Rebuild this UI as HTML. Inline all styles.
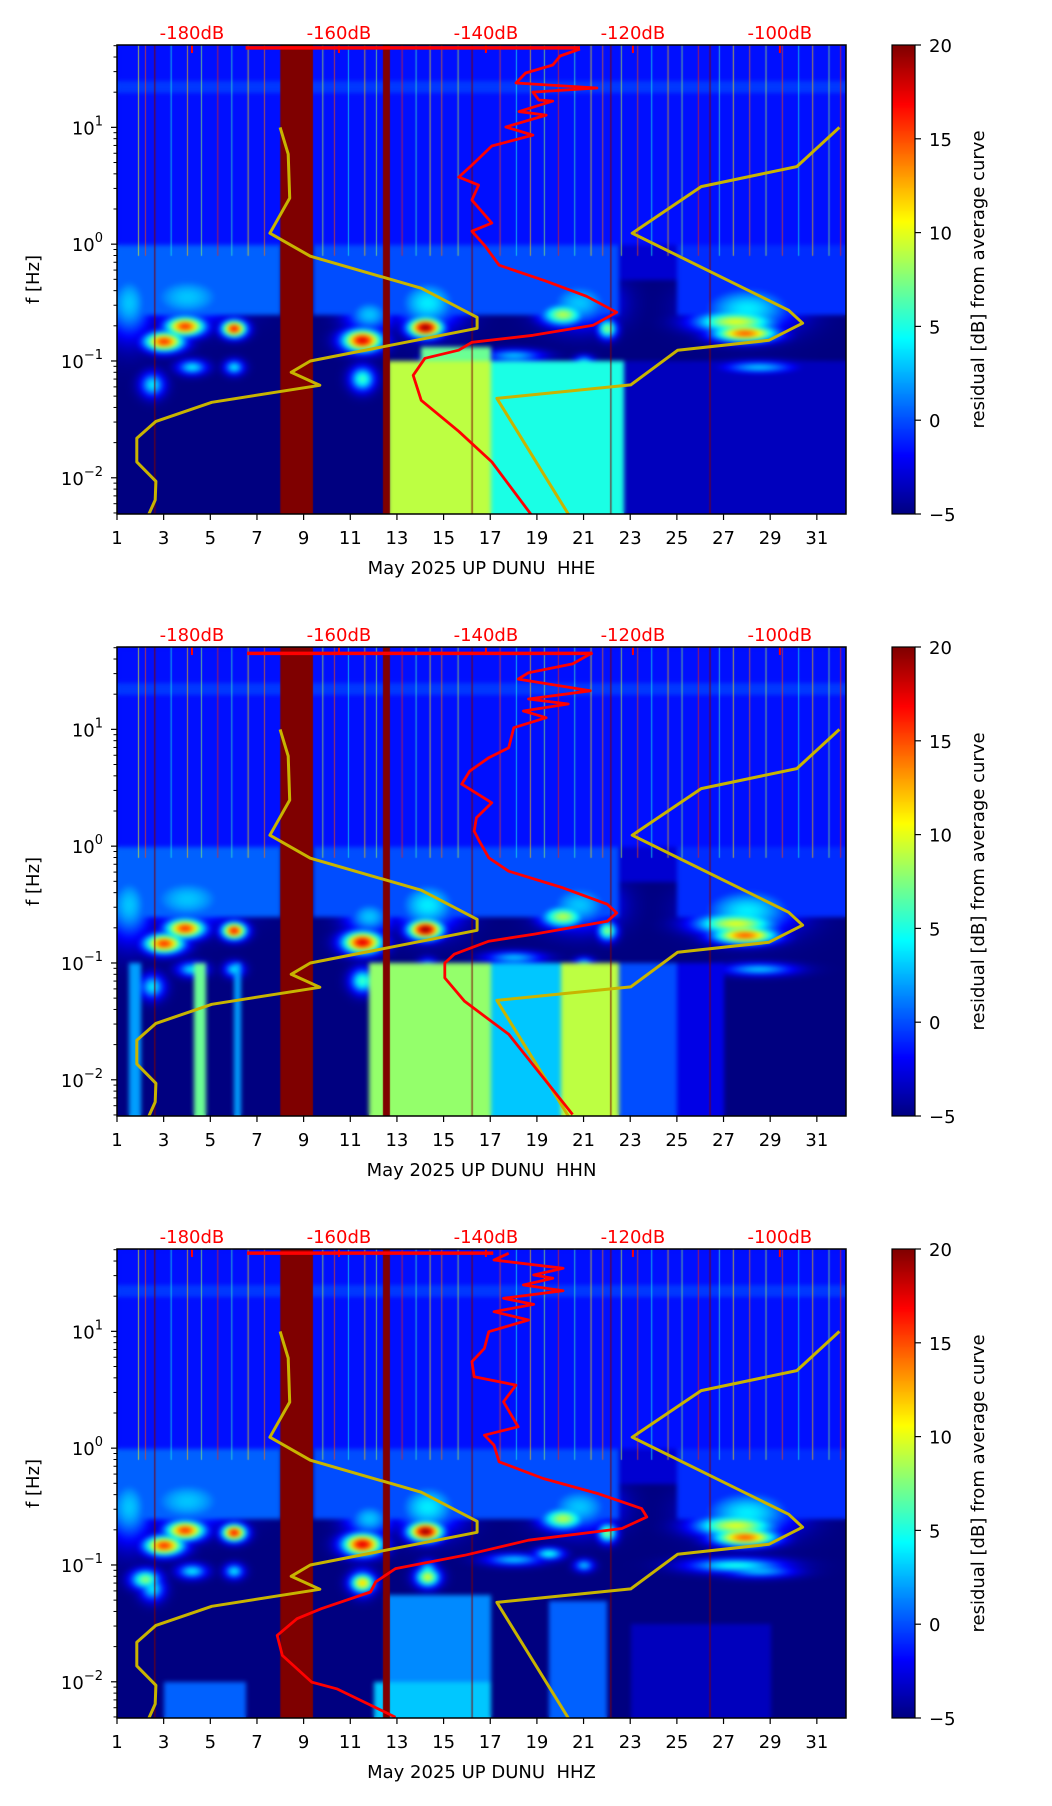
<!DOCTYPE html>
<html><head><meta charset="utf-8"><style>
html,body{margin:0;padding:0;background:#fff;}
body{width:1052px;height:1806px;position:relative;overflow:hidden;font-family:"DejaVu Sans","Liberation Sans",sans-serif;}
canvas{position:absolute;}
svg{position:absolute;left:0;top:0;}
</style></head><body>
<canvas id="c0" width="729" height="469" style="left:117px;top:45px"></canvas>
<canvas id="c1" width="729" height="469" style="left:117px;top:647px"></canvas>
<canvas id="c2" width="729" height="469" style="left:117px;top:1249px"></canvas>
<canvas id="cb0" width="23" height="469" style="left:892px;top:45px"></canvas>
<canvas id="cb1" width="23" height="469" style="left:892px;top:647px"></canvas>
<canvas id="cb2" width="23" height="469" style="left:892px;top:1249px"></canvas>
<svg id="ov" width="1052" height="1806"></svg>
<script>
// ---------- data ----------
const panelTitles = ["May 2025 UP DUNU\u00a0\u00a0HHE","May 2025 UP DUNU\u00a0\u00a0HHN","May 2025 UP DUNU\u00a0\u00a0HHZ"];
const dayTicks = [1,3,5,7,9,11,13,15,17,19,21,23,25,27,29,31];
const dbTicks = [-180,-160,-140,-120,-100];
const logTicks = [1,0,-1,-2];
const cbTicks = [20,15,10,5,0,-5];
// New Low Noise Model (dB, log10 Hz)
const nlnmDb = [-168.0,-166.9,-166.7,-169.4,-163.9,-148.8,-141.2,-141.2,-163.9,-166.5,-162.6,-177.3,-184.9,-187.5,-187.5,-184.9,-185.0,-186.0];
const nlnmLogF = [1.0,0.771,0.394,0.094,-0.103,-0.377,-0.626,-0.72,-1.0,-1.097,-1.208,-1.354,-1.517,-1.662,-1.864,-2.03,-2.19,-2.33];
// New High Noise Model
const nhnmDb = [-91.9,-97.7,-110.7,-120.1,-98.8,-96.9,-101.5,-113.9,-120.3,-138.5,-128.6];
const nhnmLogF = [1.0,0.664,0.493,0.094,-0.566,-0.677,-0.823,-0.908,-1.205,-1.32,-2.33];
// average PSD curves per channel
const avgTopDb = [[-172.7,-127.2],[-172.5,-125.5],[-172.5,-139.0]];
const avgTopLogF = [1.68,1.65,1.67];
const avgDb0 = [-127.2,-129.9,-130.9,-134.6,-135.9,-124.9,-133.6,-132.8,-130.9,-135.5,-131.8,-137.3,-133.6,-139.2,-141.9,-143.7,-141.0,-141.9,-139.2,-141.9,-140.1,-138.2,-131.8,-126.3,-122.2,-125.4,-133.6,-141.9,-143.7,-148.3,-149.9,-148.8,-143.7,-139.2,-133.6];
const avgLogF0 = [1.671,1.611,1.534,1.465,1.380,1.337,1.302,1.234,1.225,1.135,1.105,1.003,0.934,0.840,0.677,0.574,0.506,0.377,0.180,0.111,-0.017,-0.180,-0.317,-0.446,-0.583,-0.694,-0.780,-0.840,-0.908,-0.977,-1.123,-1.337,-1.602,-1.864,-2.335];
const avgDb1 = [-125.5,-128.2,-134.2,-135.6,-125.8,-134.2,-128.8,-134.9,-131.8,-136.2,-136.9,-139.6,-142.2,-143.3,-139.2,-141.3,-141.6,-140.9,-139.6,-136.9,-129.5,-123.5,-122.2,-123.5,-133.5,-139.6,-144.3,-145.6,-145.6,-142.9,-136.9,-128.2];
const avgLogF1 = [1.656,1.56,1.485,1.43,1.33,1.26,1.217,1.157,1.10,1.014,0.842,0.757,0.643,0.531,0.371,0.243,0.129,0.043,-0.1,-0.214,-0.357,-0.497,-0.571,-0.643,-0.754,-0.814,-0.925,-1.0,-1.128,-1.328,-1.611,-2.297];
const avgDb2 = [-136.9,-138.9,-129.5,-133.5,-130.9,-134.9,-129.5,-137.6,-133.5,-138.9,-134.2,-139.6,-140.2,-141.9,-141.6,-135.9,-137.6,-135.6,-140.2,-138.9,-138.2,-132.2,-124.8,-118.8,-118.1,-121.5,-134.2,-142.9,-152.3,-155.0,-155.7,-162.4,-165.7,-168.4,-167.7,-163.7,-160.3,-152.3];
const avgLogF2 = [1.668,1.611,1.54,1.482,1.454,1.397,1.348,1.283,1.231,1.168,1.097,0.997,0.854,0.74,0.611,0.54,0.397,0.183,0.111,0.026,-0.117,-0.26,-0.388,-0.517,-0.589,-0.688,-0.788,-0.917,-1.031,-1.145,-1.231,-1.374,-1.46,-1.603,-1.774,-2.003,-2.06,-2.303];
// spectrogram regions: [day0, day1, logf0, logf1, residual dB]
const commonRegions = [[1,32.25,0,1.71,-1.5],[1,32.25,1.3,1.4,-0.5],[1,8,-0.6,0,0.5],[9.4,22.5,-0.6,0,0],[22.5,25,-0.3,0,-3],[25,32.25,-0.6,0,-0.8]];
const regions0 = [[12.6,17,-2.32,-1.0,9],[14,17,-1.0,-0.88,7],[17,22.7,-2.32,-1.0,5],[22.7,32.25,-2.32,-1.0,-3.5]];
const regions1 = [[1.5,2,-2.32,-1.0,2],[4.3,4.8,-2.32,-1.0,7],[6,6.3,-2.32,-1.0,2],[11.8,17,-2.32,-1.0,8],[17,20,-2.32,-1.0,3],[20,22.5,-2.32,-1.0,9],[22.5,25,-2.32,-1.0,0],[25,27,-2.32,-1.0,-2.5]];
const regions2 = [[12.5,17,-2.32,-1.25,1.5],[19.5,22,-2.32,-1.3,0.5],[3,6.5,-2.32,-2.0,0.5],[12,17,-2.32,-2.0,3],[23,29,-2.32,-1.5,-3.5]];
// blobs: [day, logf, value, day radius, decade radius]
const commonBlobs = [[3.0,-0.83,16,0.8,0.08],[3.9,-0.70,16,0.8,0.08],[6.0,-0.72,17,0.5,0.07],[11.5,-0.82,18,0.8,0.09],[14.2,-0.71,20,0.7,0.08],[20.1,-0.6,9,0.9,0.09],[22.0,-0.72,8,0.4,0.08],[27.9,-0.76,15,1.3,0.07],[27.5,-0.66,10,1.7,0.09],[2.5,-1.2,4,0.5,0.1],[4.2,-1.05,4,0.6,0.06],[6.0,-1.05,4,0.4,0.06],[11.5,-1.15,6,0.5,0.1],[14.3,-1.05,5,0.4,0.08],[18.0,-0.95,3,1.2,0.05],[21,-1.0,3,0.4,0.05],[28.5,-1.05,3,1.5,0.05],[4.0,-0.45,3,2.0,0.22],[14.3,-0.5,4,1.4,0.22],[20.8,-0.5,3,1.5,0.2],[28.0,-0.55,4,2.0,0.2],[11.8,-0.6,3,1.0,0.15],[1.5,-0.5,3,1.0,0.3]];
const blobs2 = [[2.2,-1.12,8,0.6,0.08],[11.5,-1.15,12,0.5,0.08],[14.3,-1.1,10,0.5,0.08],[27.5,-1.0,5,2,0.06],[19.5,-0.9,5,0.6,0.05]];
const streakDays = [1.9,2.2,3.3,4.0,4.6,5.3,5.9,6.6,7.3,9.8,10.3,10.9,11.6,12.1,13.2,13.8,14.4,14.9,15.6,17.4,18.1,18.7,19.3,19.9,20.6,21.3,21.8,22.6,23.3,23.9,24.6,25.2,25.9,26.8,27.4,28.1,28.8,29.5,30.2,30.8,31.5,32.0];
const streakVals = [10,15,5,12,8,16,6,11,14,9,15,5,12,8,16,6,11,14,9,15,5,12,8,16,6,11,14,9,15,5,12,8,16,6,11,14,9,15,5,12,8,16];
const redLineDays = [2.6,16.2,22.15,26.4];
const gapBands = [[8.0,9.4],[12.4,12.7]];

// ---------- geometry ----------
const PL=117, PW=729, PH=469, TOPS=[45,647,1249];
const DMIN=1, DMAX=32.25, LFMAX=1.705, LFMIN=-2.31, DBMIN=-190.2, DBMAX=-91.0;
const xDay=d=>PL+(d-DMIN)/(DMAX-DMIN)*PW;
const xDb=db=>PL+(db-DBMIN)/(DBMAX-DBMIN)*PW;
const yLf=(lf,t)=>t+(LFMAX-lf)/(LFMAX-LFMIN)*PH;
function jet(v){const t=Math.max(0,Math.min(1,(v+5)/25));const c=x=>Math.round(255*Math.max(0,Math.min(1,1.5-Math.abs(4*t-x))));return [c(3),c(2),c(1)];}
const rgb=a=>`rgb(${a[0]},${a[1]},${a[2]})`;

const regionSets=[regions0,regions1,regions2];
const blobSets=[commonBlobs,commonBlobs,commonBlobs.concat(blobs2)];
for(let p=0;p<3;p++){
  const cv=document.getElementById('c'+p),ctx=cv.getContext('2d');
  const tmp=document.createElement('canvas');tmp.width=PW;tmp.height=PH;const tctx=tmp.getContext('2d');
  const img=tctx.createImageData(PW,PH);
  const regs=commonRegions.concat(regionSets[p]);const bl=blobSets[p];
  for(let py=0;py<PH;py++){const lf=LFMAX-py/PH*(LFMAX-LFMIN);
    for(let px=0;px<PW;px++){const d=DMIN+px/PW*(DMAX-DMIN);let v=-5;
      for(const r of regs){if(d>=r[0]&&d<r[1]&&lf>=r[2]&&lf<r[3])v=r[4];}
      for(const b of bl){const dx=(d-b[0])/b[3],dy=(lf-b[1])/b[4];const q=dx*dx+dy*dy;if(q<6){const c=-5+(b[2]+5)*Math.exp(-q);if(c>v)v=c;}}
      const col=jet(v);const i=(py*PW+px)*4;img.data[i]=col[0];img.data[i+1]=col[1];img.data[i+2]=col[2];img.data[i+3]=255;}}
  tctx.putImageData(img,0,0);
  ctx.drawImage(tmp,0,0);
  ctx.filter='blur(2px)';ctx.drawImage(tmp,0,0);ctx.filter='none';
  const yEnd=yLf(-0.1,0);
  streakDays.forEach((d,i)=>{ctx.fillStyle=rgb(jet(streakVals[i]));ctx.globalAlpha=0.7;ctx.fillRect(xDay(d)-PL,0,1,yEnd);});
  ctx.globalAlpha=1;ctx.fillStyle='#7f0000';
  redLineDays.forEach(d=>ctx.fillRect(xDay(d)-PL,0,1,PH));
  gapBands.forEach(g=>ctx.fillRect(xDay(g[0])-PL,0,xDay(g[1])-xDay(g[0]),PH));
  const cb=document.getElementById('cb'+p).getContext('2d');
  for(let y=0;y<PH;y++){cb.fillStyle=rgb(jet(20-y/PH*25));cb.fillRect(0,y,23,1);}
}

// ---------- SVG overlay ----------
const NS='http://www.w3.org/2000/svg',ov=document.getElementById('ov');
function mk(tag,attrs,parent){const e=document.createElementNS(NS,tag);for(const k in attrs)e.setAttribute(k,attrs[k]);(parent||ov).appendChild(e);return e;}
function poly(dbs,lfs,t){return dbs.map((db,i)=>xDb(db).toFixed(1)+','+yLf(lfs[i],t).toFixed(1)).join(' ');}
const avgDbs=[avgDb0,avgDb1,avgDb2],avgLfs=[avgLogF0,avgLogF1,avgLogF2],names=['hhe','hhn','hhz'];
for(let p=0;p<3;p++){
  const t=TOPS[p];
  const g=mk('g',{});
  
  
  const clip=mk('clipPath',{id:'cl'+p},g);mk('rect',{x:PL,y:t,width:PW,height:PH},clip);
  const cg=mk('g',{'clip-path':`url(#cl${p})`},g);
  const l1=mk('polyline',{points:poly(nlnmDb,nlnmLogF,t),fill:'none',stroke:'#c8b400','stroke-width':3,'stroke-linejoin':'round'},cg);
  
  
  const l2=mk('polyline',{points:poly(nhnmDb,nhnmLogF,t),fill:'none',stroke:'#c8b400','stroke-width':3,'stroke-linejoin':'round'},cg);
  
  
  const tl=mk('line',{x1:xDb(avgTopDb[p][0]),x2:xDb(avgTopDb[p][1]),y1:yLf(avgTopLogF[p],t),y2:yLf(avgTopLogF[p],t),stroke:'#ff0000','stroke-width':3.5},cg);
  
  
  const l3=mk('polyline',{points:poly(avgDbs[p],avgLfs[p],t),fill:'none',stroke:'#ff0000','stroke-width':2.8,'stroke-linejoin':'round'},cg);
  
  
  dbTicks.forEach(db=>{const x=xDb(db);
    mk('line',{x1:x,x2:x,y1:t,y2:t+8,stroke:'#ff0000','stroke-width':2},g);
    const tx=mk('text',{x:x,y:t-6,'text-anchor':'middle','font-size':18,fill:'#ff0000'},g);tx.textContent=db+'dB';
    
    });
  mk('rect',{x:PL,y:t,width:PW,height:PH,fill:'none',stroke:'#000','stroke-width':1.5},g);
  dayTicks.forEach(d=>{const x=xDay(d);mk('line',{x1:x,x2:x,y1:t+PH,y2:t+PH+6,stroke:'#000','stroke-width':1.2},g);
    const tx=mk('text',{x:x,y:t+PH+30,'text-anchor':'middle','font-size':18},g);tx.textContent=d;
    
    });
  logTicks.forEach(lf=>{const y=yLf(lf,t);mk('line',{x1:PL-6,x2:PL,y1:y,y2:y,stroke:'#000','stroke-width':1.2},g);
    const tx=mk('text',{x:PL-14,y:y+7,'text-anchor':'end','font-size':18},g);tx.textContent='10';
    const sp=mk('tspan',{dy:-9,'font-size':13},tx);sp.textContent=lf<0?'\u2212'+(-lf):String(lf);
    
    
    for(let m=2;m<10;m++){const y2=yLf(lf+Math.log10(m),t);if(y2>t&&y2<t+PH)mk('line',{x1:PL-3.5,x2:PL,y1:y2,y2:y2,stroke:'#000','stroke-width':1},g);}});
  for(let m=5;m<10;m++){const y2=yLf(-3+Math.log10(m),t);if(y2>t&&y2<t+PH)mk('line',{x1:PL-3.5,x2:PL,y1:y2,y2:y2,stroke:'#000','stroke-width':1},g);}
  const yl=mk('text',{x:0,y:0,'text-anchor':'middle','font-size':18,transform:`translate(39,${t+PH/2}) rotate(-90)`},g);yl.textContent='f [Hz]';
  
  
  const xl=mk('text',{x:PL+PW/2,y:t+PH+60,'text-anchor':'middle','font-size':18},g);xl.textContent=panelTitles[p];
  
  
  mk('rect',{x:892,y:t,width:23,height:PH,fill:'none',stroke:'#000','stroke-width':1.2},g);
  cbTicks.forEach(v=>{const y=t+(20-v)/25*PH;mk('line',{x1:915,x2:921,y1:y,y2:y,stroke:'#000','stroke-width':1.2},g);
    const tx=mk('text',{x:929,y:y+7,'font-size':18},g);tx.textContent=v<0?'\u2212'+(-v):String(v);
    
    });
  const cl=mk('text',{x:0,y:0,'text-anchor':'middle','font-size':18,transform:`translate(984,${t+PH/2}) rotate(-90)`},g);cl.textContent='residual [dB] from average curve';
  
  
}
</script>
</body></html>
